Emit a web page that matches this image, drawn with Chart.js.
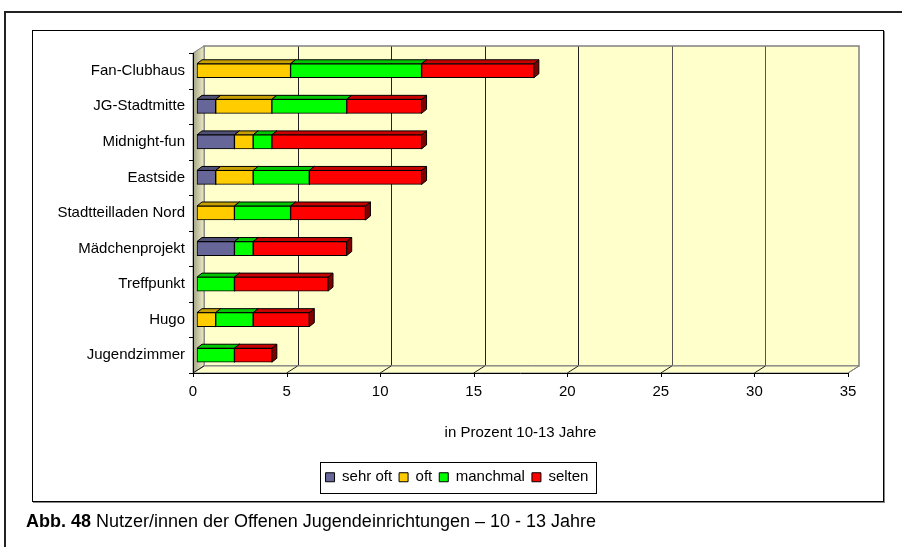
<!DOCTYPE html>
<html>
<head>
<meta charset="utf-8">
<script src="https://cdn.jsdelivr.net/npm/chart.js@4"></script>
<style>
  html, body { margin: 0; padding: 0; background: #fff; }
  body { width: 902px; height: 547px; position: relative; overflow: hidden; font-family: 'Liberation Sans', Arial, sans-serif; }
  #page { position: absolute; left: 4px; top: 11px; width: 900px; height: 540px; border-top: 2px solid #222; border-left: 2px solid #222; }
  #box { position: absolute; left: 32px; top: 30px; width: 850px; height: 470px; border: 1px solid #000; box-shadow: 1px 1px 0 #888; }
  #myChart { position: absolute; left: 0; top: 0; }
  #caption { position: absolute; left: 26px; top: 511px; font-size: 18px; color: #000; white-space: nowrap; }
</style>
</head>
<body>
<div id="page"></div>
<div id="box"></div>
<canvas id="myChart" width="902" height="547"></canvas>
<div id="caption"><b>Abb. 48</b> Nutzer/innen der Offenen Jugendeinrichtungen – 10 - 13 Jahre</div>
<script>
const categories = ['Fan-Clubhaus', 'JG-Stadtmitte', 'Midnight-fun', 'Eastside', 'Stadtteilladen Nord',
                    'Mädchenprojekt', 'Treffpunkt', 'Hugo', 'Jugendzimmer'];
const sehrOft  = [0, 1, 2, 1, 0, 2, 0, 0, 0];
const oft      = [5, 3, 1, 2, 2, 0, 0, 1, 0];
const manchmal = [7, 4, 1, 3, 3, 1, 2, 2, 2];
const selten   = [6, 4, 8, 6, 4, 5, 5, 3, 2];
const xMin = 0, xMax = 35, xStep = 5;

const wallDepth = { x: 11, y: -7 };
const barDepth = { x: 5, y: -4 };
const barShift = 4;

function shade(hex, f) {
    const n = parseInt(hex.slice(1), 16);
    const r = Math.round(((n >> 16) & 255) * f);
    const g = Math.round(((n >> 8) & 255) * f);
    const b = Math.round((n & 255) * f);
    return `rgb(${r},${g},${b})`;
}

// walls, floor, axes and the depth faces of the bars
const threeD = {
    id: 'threeD',
    beforeDatasetsDraw(chart) {
        const { ctx, chartArea: a, scales: { x } } = chart;
        const dx = wallDepth.x, dy = wallDepth.y;
        const L = a.left, R = a.right, T = a.top, B = a.bottom;

        ctx.save();
        ctx.lineWidth = 1;

        // back wall
        ctx.fillStyle = '#ffffcc';
        ctx.fillRect(L + dx, T + dy, R - L, B - T);
        for (let v = xMin + xStep; v < xMax; v += xStep) {
            const px = Math.round(x.getPixelForValue(v) + dx) + 0.5;
            ctx.strokeStyle = v > 20 ? '#555' : '#222';
            ctx.beginPath();
            ctx.moveTo(px, T + dy);
            ctx.lineTo(px, B + dy);
            ctx.stroke();
        }
        ctx.strokeStyle = '#808080';
        ctx.lineWidth = 1.5;
        ctx.strokeRect(L + dx, T + dy, R - L, B - T);

        // left wall
        const g = ctx.createLinearGradient(L, 0, L + dx, 0);
        g.addColorStop(0, '#a3a386');
        g.addColorStop(1, '#ecebc4');
        ctx.fillStyle = g;
        ctx.beginPath();
        ctx.moveTo(L, T);
        ctx.lineTo(L + dx, T + dy);
        ctx.lineTo(L + dx, B + dy);
        ctx.lineTo(L, B);
        ctx.closePath();
        ctx.fill();
        ctx.strokeStyle = '#808080';
        ctx.lineWidth = 1;
        ctx.stroke();

        // floor
        ctx.fillStyle = '#ffffcc';
        ctx.beginPath();
        ctx.moveTo(L, B);
        ctx.lineTo(R, B);
        ctx.lineTo(R + dx, B + dy);
        ctx.lineTo(L + dx, B + dy);
        ctx.closePath();
        ctx.fill();
        ctx.strokeStyle = '#808080';
        ctx.stroke();
        for (let v = xMin; v <= xMax; v += xStep) {
            const px = x.getPixelForValue(v);
            ctx.strokeStyle = v === xMax ? '#808080' : '#222';
            ctx.beginPath();
            ctx.moveTo(px, B);
            ctx.lineTo(px + dx, B + dy);
            ctx.stroke();
        }

        // front axes with tick marks
        ctx.strokeStyle = '#000';
        ctx.beginPath();
        ctx.moveTo(L, Math.round(B) + 0.5);
        ctx.lineTo(R, Math.round(B) + 0.5);
        ctx.moveTo(Math.round(L) + 0.5, T);
        ctx.lineTo(Math.round(L) + 0.5, B);
        for (let v = xMin; v <= xMax; v += xStep) {
            const px = Math.round(x.getPixelForValue(v)) + 0.5;
            ctx.moveTo(px, B);
            ctx.lineTo(px, B + 4);
        }
        const band = (B - T) / categories.length;
        for (let i = 0; i <= categories.length; i++) {
            const py = Math.round(T + i * band) + 0.5;
            ctx.moveTo(L - 4, py);
            ctx.lineTo(L, py);
        }
        ctx.stroke();
        ctx.restore();

        // bars sit a little behind the front edge
        ctx.save();
        ctx.translate(barShift, 0);
        chart.data.datasets.forEach((ds, i) => {
            const meta = chart.getDatasetMeta(i);
            if (meta.hidden) return;
            meta.data.forEach(bar => {
                const p = bar.getProps(['x', 'y', 'base', 'height'], true);
                const left = Math.min(p.base, p.x), right = Math.max(p.base, p.x);
                if (right - left < 0.5) return;
                const top = p.y - p.height / 2, bottom = p.y + p.height / 2;
                const bx = barDepth.x, by = barDepth.y;
                ctx.lineWidth = 1;
                ctx.strokeStyle = '#000';
                // right face
                ctx.fillStyle = shade(ds.backgroundColor, 0.5);
                ctx.beginPath();
                ctx.moveTo(right, top);
                ctx.lineTo(right + bx, top + by);
                ctx.lineTo(right + bx, bottom + by);
                ctx.lineTo(right, bottom);
                ctx.closePath();
                ctx.fill();
                ctx.stroke();
                // top face
                ctx.fillStyle = shade(ds.backgroundColor, 0.78);
                ctx.beginPath();
                ctx.moveTo(left, top);
                ctx.lineTo(right, top);
                ctx.lineTo(right + bx, top + by);
                ctx.lineTo(left + bx, top + by);
                ctx.closePath();
                ctx.fill();
                ctx.stroke();
            });
        });
    },
    afterDatasetsDraw(chart) {
        chart.ctx.restore();
    }
};

// frame round the legend
const legendFrame = {
    id: 'legendFrame',
    afterDraw(chart) {
        const hb = chart.legend.legendHitBoxes;
        if (!hb || !hb.length) return;
        const ctx = chart.ctx;
        const first = hb[0], last = hb[hb.length - 1];
        const cy = first.top + first.height / 2;
        const x0 = Math.round(first.left - 6) + 0.5;
        const x1 = Math.round(last.left + last.width + 8) + 0.5;
        const y0 = Math.round(cy - 15.5) + 0.5;
        ctx.save();
        ctx.strokeStyle = '#000';
        ctx.lineWidth = 1;
        ctx.strokeRect(x0, y0, x1 - x0, 31);
        ctx.restore();
    }
};

Chart.defaults.font.family = "'Liberation Sans', Arial, sans-serif";
Chart.defaults.color = '#000';

const data = {
    labels: categories,
    datasets: [
        { label: 'sehr oft', data: sehrOft, backgroundColor: '#666699' },
        { label: 'oft', data: oft, backgroundColor: '#ffcc00' },
        { label: 'manchmal', data: manchmal, backgroundColor: '#00ff00' },
        { label: 'selten', data: selten, backgroundColor: '#ff0000' },
    ].map(ds => Object.assign(ds, {
        borderColor: '#000',
        borderWidth: 1,
        borderSkipped: false,
        barThickness: 14,
        clip: false
    }))
};

const options = {
    indexAxis: 'y',
    responsive: false,
    animation: false,
    layout: { padding: { left: 33, right: 21, top: 53, bottom: 52.25 } },
    scales: {
        x: {
            stacked: true,
            min: xMin,
            max: xMax,
            grid: { display: false, drawTicks: false },
            border: { display: false },
            ticks: { stepSize: xStep, padding: 10, font: { size: 15 } },
            title: {
                display: true,
                text: 'in Prozent 10-13 Jahre',
                font: { size: 15 },
                padding: { top: 0, bottom: 21 }
            },
            afterFit(scale) { scale.height = 89.75; }
        },
        y: {
            stacked: true,
            grid: { display: false, drawTicks: false },
            border: { display: false },
            ticks: { autoSkip: false, padding: 8, font: { size: 15 } },
            afterFit(scale) { scale.width = 160; }
        },
        // empty strip on the right of the plot
        edge: {
            type: 'linear',
            position: 'right',
            grid: { display: false, drawTicks: false },
            border: { display: false },
            ticks: { display: false },
            afterFit(scale) { scale.width = 33; }
        }
    },
    plugins: {
        legend: {
            position: 'bottom',
            labels: { boxWidth: 9, boxHeight: 9, padding: 7, font: { size: 15 } }
        },
        tooltip: { enabled: false }
    }
};

const myChart = new Chart(
    document.getElementById('myChart'),
    { type: 'bar', data, options, plugins: [threeD, legendFrame] }
);
</script>
</body>
</html>
